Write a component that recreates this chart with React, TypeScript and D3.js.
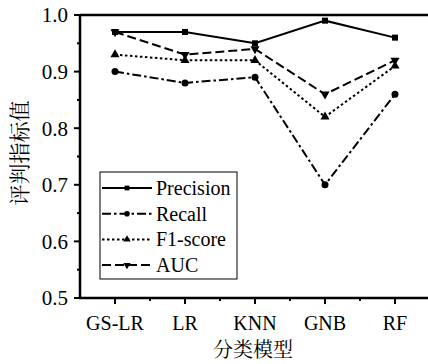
import * as d3 from "d3";

const models = ["GS-LR", "LR", "KNN", "GNB", "RF"];
const precision = [0.97, 0.97, 0.95, 0.99, 0.96];
const recall = [0.9, 0.88, 0.89, 0.7, 0.86];
const f1 = [0.93, 0.92, 0.92, 0.82, 0.91];
const auc = [0.97, 0.93, 0.94, 0.86, 0.92];
const yTicks = [0.5, 0.6, 0.7, 0.8, 0.9, 1.0];

const series = [
  { name: "Precision", values: precision, dash: "none", marker: "square" },
  { name: "Recall", values: recall, dash: "9 3 2.5 3", marker: "circle" },
  { name: "F1-score", values: f1, dash: "2.5 2.5", marker: "up" },
  { name: "AUC", values: auc, dash: "9 4", marker: "down" },
];

const W = 428, H = 364;
const left = 80, top = 15, bottom = 298;
const serifStyle = { fontFamily: "Liberation Serif, Times New Roman, serif" };
const cjkStyle = { fontFamily: "Noto Serif CJK SC, Noto Sans CJK SC, serif" };

function Marker({ type, x, y, k = 1 }: { type: string; x: number; y: number; k?: number }) {
  if (type === "square") return <rect x={x - 3 * k} y={y - 3 * k} width={6 * k} height={6 * k} fill="#000" />;
  if (type === "circle") return <circle cx={x} cy={y} r={3.5 * k} fill="#000" />;
  const sym = d3.symbol(d3.symbolTriangle, 36 * k * k)();
  return <path d={sym || ""} transform={`translate(${x},${y})${type === "down" ? " rotate(180)" : ""}`} fill="#000" />;
}

export default function App() {
  const x = d3.scaleLinear().domain([-0.5, 4.5]).range([left, left + 350]);
  const y = d3.scaleLinear().domain([0.5, 1.0]).range([bottom, top]);
  const line = d3.line<number>().x((_, i) => x(i)).y((d) => y(d));
  const minorY = d3.range(0.55, 1.0, 0.1);
  const minorX = d3.range(0.5, 4.6, 1);

  const lx = 102, ly = 188, lstep = 25.7;

  return (
    <svg width={W} height={H} style={{ position: "absolute", left: 0, top: 0 }}>
      <rect width={W} height={H} fill="#fff" />
      {/* axes frame */}
      <line x1={left} x2={W} y1={top} y2={top} stroke="#000" strokeWidth={2.5} />
      <line x1={left} x2={left} y1={top - 1} y2={bottom + 1} stroke="#000" strokeWidth={2.5} />
      <line x1={left - 1} x2={W} y1={bottom} y2={bottom} stroke="#000" strokeWidth={2.5} />
      {yTicks.map((t) => (
        <g key={t}>
          <line x1={left - 6} x2={left} y1={y(t)} y2={y(t)} stroke="#000" strokeWidth={2} />
          <text x={left - 12} y={y(t)} dy="0.35em" textAnchor="end" style={serifStyle} fontSize={21}>
            {t.toFixed(1)}
          </text>
        </g>
      ))}
      {minorY.map((t) => (
        <line key={t} x1={left - 3} x2={left} y1={y(t)} y2={y(t)} stroke="#000" strokeWidth={2} />
      ))}
      {models.map((m, i) => (
        <g key={m}>
          <line x1={x(i)} x2={x(i)} y1={bottom} y2={bottom + 6} stroke="#000" strokeWidth={2} />
          <text x={x(i)} y={330} textAnchor="middle" style={serifStyle} fontSize={20}>
            {m}
          </text>
        </g>
      ))}
      {minorX.map((t) => (
        <line key={t} x1={x(t)} x2={x(t)} y1={bottom} y2={bottom + 3} stroke="#000" strokeWidth={2} />
      ))}
      <text x={253} y={357} textAnchor="middle" style={cjkStyle} fontSize={20}>
        分类模型
      </text>
      <text transform={`translate(27,153) rotate(-90)`} textAnchor="middle" style={cjkStyle} fontSize={21}>
        评判指标值
      </text>
      {/* series */}
      {series.map((s) => (
        <g key={s.name}>
          <path d={line(s.values) || ""} fill="none" stroke="#000" strokeWidth={2} strokeDasharray={s.dash} />
          {s.values.map((v, i) => (
            <Marker key={i} type={s.marker} x={x(i)} y={y(v)} />
          ))}
        </g>
      ))}
      {/* legend */}
      <rect x={100} y={172} width={137} height={107} fill="#fff" stroke="#000" strokeWidth={1} />
      {series.map((s, i) => (
        <g key={s.name}>
          <line x1={lx} x2={lx + 50} y1={ly + i * lstep} y2={ly + i * lstep} stroke="#000" strokeWidth={2} strokeDasharray={s.dash} />
          <Marker type={s.marker} x={lx + 25} y={ly + i * lstep} k={0.8} />
          <text x={lx + 54} y={ly + i * lstep} dy="0.35em" style={serifStyle} fontSize={20}>
            {s.name}
          </text>
        </g>
      ))}
    </svg>
  );
}
